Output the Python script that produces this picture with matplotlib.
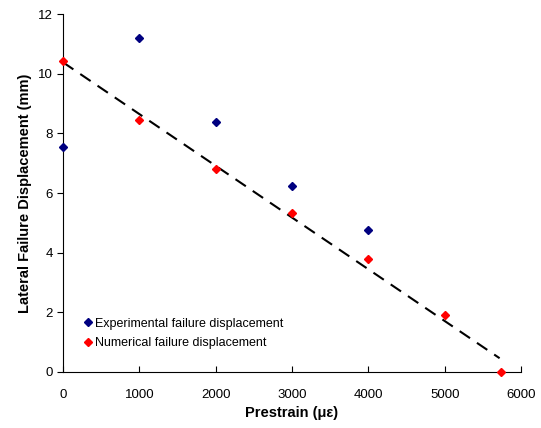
import matplotlib.pyplot as plt
import numpy as np

plt.rcParams['font.family'] = ['Liberation Sans', 'DejaVu Sans']

exp_x = [0, 1000, 2000, 3000, 4000]
exp_y = [7.53, 11.2, 8.38, 6.25, 4.76]
num_x = [0, 1000, 2000, 3000, 4000, 5000, 5740]
num_y = [10.42, 8.45, 6.8, 5.32, 3.79, 1.92, 0.0]

fig = plt.figure(figsize=(5.41, 4.28), dpi=100)
ax = fig.add_axes([0.1165, 0.131, 0.8465, 0.836])

ax.plot(exp_x, exp_y, 'D', color='#000080', markersize=4.5, linestyle='none',
        label='Experimental failure displacement', clip_on=False, zorder=3)
ax.plot(num_x, num_y, 'D', color='#ff0000', markersize=4.5, linestyle='none',
        label='Numerical failure displacement', clip_on=False, zorder=3)

# linear trend of numerical results
k, b = np.polyfit(num_x, num_y, 1)
xs = np.array([0, 5720])
ax.plot(xs, k * xs + b, color='black', linestyle=(0, (6, 4)), linewidth=1.5, zorder=2)

ax.set_xlim(0, 6000)
ax.set_ylim(0, 12)
ax.set_xticks(range(0, 6001, 1000))
ax.set_yticks(range(0, 13, 2))
ax.spines['top'].set_visible(False)
ax.spines['right'].set_visible(False)
ax.tick_params(axis='x', direction='in', length=4, labelsize=9.5, pad=12)
ax.tick_params(axis='y', direction='out', length=4, labelsize=9.5)
ax.set_xlabel('Prestrain (\u03bc\u03b5)', fontsize=10.5, fontweight='bold', labelpad=4)
ax.set_ylabel('Lateral Failure Displacement (mm)', fontsize=10.5, fontweight='bold', labelpad=4)

ax.legend(loc='lower left', bbox_to_anchor=(0.035, 0.05), frameon=False, fontsize=9,
          handlelength=0.6, handletextpad=0.3, borderaxespad=0, labelspacing=0.6)

fig.savefig('out.png', dpi=100)
